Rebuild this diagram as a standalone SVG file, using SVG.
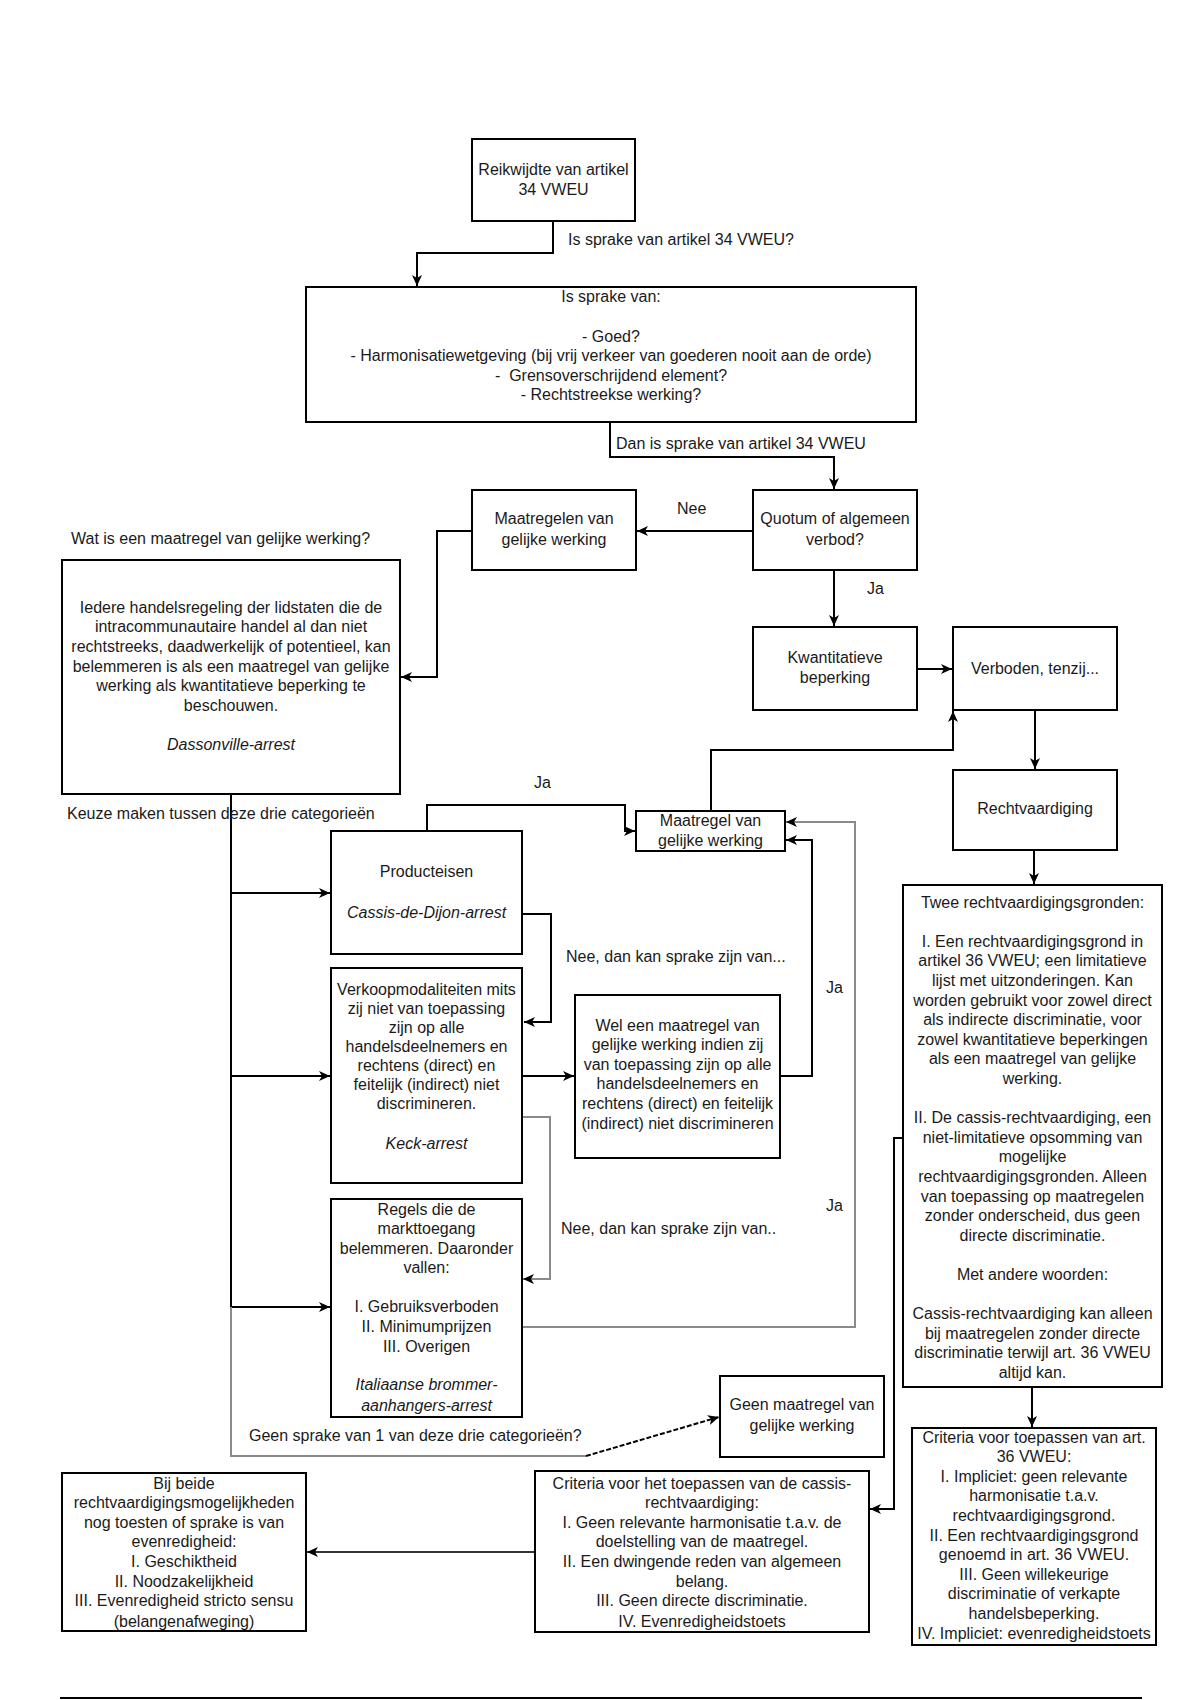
<svg xmlns="http://www.w3.org/2000/svg" width="1200" height="1700" viewBox="0 0 1200 1700">
<style>
.box{fill:#fff;stroke:#000;stroke-width:2}
.t{font-family:"Liberation Sans",Arial,Helvetica,sans-serif;font-size:16px;fill:#1a1a1a;text-anchor:middle}
.l{font-family:"Liberation Sans",Arial,Helvetica,sans-serif;font-size:16px;fill:#1a1a1a;text-anchor:start}
.i{font-style:italic}
.e{fill:none;stroke:#000;stroke-width:2}
.g{fill:none;stroke:#8a8a8a;stroke-width:2}
.d{stroke-dasharray:5 2}
</style>
<defs>
<marker id="arr" markerUnits="userSpaceOnUse" markerWidth="12" markerHeight="10" refX="11" refY="5" orient="auto">
<path d="M0,0 L11,5 L0,10 L3,5 Z" fill="#000"/>
</marker>
</defs>
<rect width="1200" height="1700" fill="#fff"/>

<g id="connectors">
<path class="e" d="M553,221 V253 H417 V286" marker-end="url(#arr)"/>
<path class="e" d="M610,422 V457 H834 V489" marker-end="url(#arr)"/>
<path class="e" d="M752,531 H637" marker-end="url(#arr)"/>
<path class="e" d="M834,569 V626" marker-end="url(#arr)"/>
<path class="e" d="M918,669 H952" marker-end="url(#arr)"/>
<path class="e" d="M1035,710 V769" marker-end="url(#arr)"/>
<path class="e" d="M472,531 H437 V677 H401" marker-end="url(#arr)"/>
<path class="e" d="M1034,850 V884" marker-end="url(#arr)"/>
<path class="e" d="M231,794 V1307"/>
<path class="e" d="M231,893 H330" marker-end="url(#arr)"/>
<path class="e" d="M231,1076 H330" marker-end="url(#arr)"/>
<path class="e" d="M231,1307 H330" marker-end="url(#arr)"/>
<path class="g" d="M231,1307 V1456 H586"/>
<path class="e d" d="M586,1456 L719,1417" marker-end="url(#arr)"/>
<path class="e" d="M427,831 V805 H625 V831 H635" marker-end="url(#arr)"/>
<path class="e" d="M711,811 V750 H953 V711" marker-end="url(#arr)"/>
<path class="e" d="M523,914 H551 V1022 H524" marker-end="url(#arr)"/>
<path class="e" d="M523,1076 H574" marker-end="url(#arr)"/>
<path class="e" d="M780,1076 H812 V840 H786" marker-end="url(#arr)"/>
<path class="g" d="M522,1327 H855 V822 H786" marker-end="url(#arr)"/>
<path class="g" d="M522,1117 H550 V1279 H523" marker-end="url(#arr)"/>
<path class="e" d="M903,1138 H894 V1509 H870" marker-end="url(#arr)"/>
<path class="e" d="M1032,1387 V1427" marker-end="url(#arr)"/>
<path fill="none" stroke="#333" stroke-width="2" d="M535,1552 H307" marker-end="url(#arr)"/>
<path class="e" d="M60,1698 H1142"/>
</g>

<g id="labels">
<text class="l" x="568" y="244.5">Is sprake van artikel 34 VWEU?</text>
<text class="l" x="616" y="448.5">Dan is sprake van artikel 34 VWEU</text>
<text class="l" x="677" y="513.5">Nee</text>
<text class="l" x="867" y="593.5">Ja</text>
<text class="l" x="71" y="543.5">Wat is een maatregel van gelijke werking?</text>
<text class="l" x="67" y="818.5">Keuze maken tussen deze drie categorieën</text>
<text class="l" x="534" y="787.5">Ja</text>
<text class="l" x="566" y="961.5">Nee, dan kan sprake zijn van...</text>
<text class="l" x="826" y="992.5">Ja</text>
<text class="l" x="561" y="1233.5">Nee, dan kan sprake zijn van..</text>
<text class="l" x="826" y="1210.5">Ja</text>
<text class="l" x="249" y="1440.5">Geen sprake van 1 van deze drie categorieën?</text>
</g>

<g id="n-reikwijdte">
<rect class="box" x="472" y="139" width="163" height="82"/>
<text class="t"><tspan x="553.5" y="174.5">Reikwijdte van artikel</tspan><tspan x="553.5" y="194.5">34 VWEU</tspan></text>
</g>

<g id="n-issprake">
<rect class="box" x="306" y="287" width="610" height="135"/>
<text class="t" xml:space="preserve"><tspan x="611" y="301.5">Is sprake van:</tspan><tspan x="611" y="341.5">- Goed?</tspan><tspan x="611" y="361">- Harmonisatiewetgeving (bij vrij verkeer van goederen nooit aan de orde)</tspan><tspan x="611" y="380.5">-  Grensoverschrijdend element?</tspan><tspan x="611" y="400">- Rechtstreekse werking?</tspan></text>
</g>

<g id="n-quotum">
<rect class="box" x="753" y="490" width="164" height="80"/>
<text class="t"><tspan x="835" y="523.5">Quotum of algemeen</tspan><tspan x="835" y="545">verbod?</tspan></text>
</g>

<g id="n-maatregelen">
<rect class="box" x="472" y="490" width="164" height="80"/>
<text class="t"><tspan x="554" y="523.5">Maatregelen van</tspan><tspan x="554" y="545">gelijke werking</tspan></text>
</g>

<g id="n-kwantitatieve">
<rect class="box" x="753" y="627" width="164" height="83"/>
<text class="t"><tspan x="835" y="662.5">Kwantitatieve</tspan><tspan x="835" y="682.5">beperking</tspan></text>
</g>

<g id="n-verboden">
<rect class="box" x="953" y="627" width="164" height="83"/>
<text class="t" x="1035" y="673.5">Verboden, tenzij...</text>
</g>

<g id="n-rechtvaardiging">
<rect class="box" x="953" y="770" width="164" height="80"/>
<text class="t" x="1035" y="813.5">Rechtvaardiging</text>
</g>

<g id="n-iedere">
<rect class="box" x="62" y="560" width="338" height="234"/>
<text class="t"><tspan x="231" y="612.5">Iedere handelsregeling der lidstaten die de</tspan><tspan x="231" y="632.2">intracommunautaire handel al dan niet</tspan><tspan x="231" y="651.9">rechtstreeks, daadwerkelijk of potentieel, kan</tspan><tspan x="231" y="671.6">belemmeren is als een maatregel van gelijke</tspan><tspan x="231" y="691.3">werking als kwantitatieve beperking te</tspan><tspan x="231" y="711">beschouwen.</tspan><tspan x="231" y="750" class="i">Dassonville-arrest</tspan></text>
</g>

<g id="n-maatregel">
<rect class="box" x="636" y="811" width="149" height="40"/>
<text class="t"><tspan x="710.5" y="825.5">Maatregel van</tspan><tspan x="710.5" y="845.5">gelijke werking</tspan></text>
</g>

<g id="n-producteisen">
<rect class="box" x="331" y="831" width="191" height="123"/>
<text class="t"><tspan x="426.5" y="876.5">Producteisen</tspan><tspan x="426.5" y="917.5" class="i">Cassis-de-Dijon-arrest</tspan></text>
</g>

<g id="n-verkoop">
<rect class="box" x="331" y="968" width="191" height="215"/>
<text class="t"><tspan x="426.5" y="994.5">Verkoopmodaliteiten mits</tspan><tspan x="426.5" y="1013.5">zij niet van toepassing</tspan><tspan x="426.5" y="1032.5">zijn op alle</tspan><tspan x="426.5" y="1052">handelsdeelnemers en</tspan><tspan x="426.5" y="1071">rechtens (direct) en</tspan><tspan x="426.5" y="1090">feitelijk (indirect) niet</tspan><tspan x="426.5" y="1109">discrimineren.</tspan><tspan x="426.5" y="1148.5" class="i">Keck-arrest</tspan></text>
</g>

<g id="n-wel">
<rect class="box" x="575" y="995" width="205" height="163"/>
<text class="t"><tspan x="677.5" y="1030.5">Wel een maatregel van</tspan><tspan x="677.5" y="1050.1">gelijke werking indien zij</tspan><tspan x="677.5" y="1069.7">van toepassing zijn op alle</tspan><tspan x="677.5" y="1089.3">handelsdeelnemers en</tspan><tspan x="677.5" y="1108.9">rechtens (direct) en feitelijk</tspan><tspan x="677.5" y="1128.5">(indirect) niet discrimineren</tspan></text>
</g>

<g id="n-regels">
<rect class="box" x="331" y="1199" width="191" height="218"/>
<text class="t"><tspan x="426.5" y="1214.5">Regels die de</tspan><tspan x="426.5" y="1234">markttoegang</tspan><tspan x="426.5" y="1253.5">belemmeren. Daaronder</tspan><tspan x="426.5" y="1273">vallen:</tspan><tspan x="426.5" y="1311.5">I. Gebruiksverboden</tspan><tspan x="426.5" y="1331.5">II. Minimumprijzen</tspan><tspan x="426.5" y="1351.5">III. Overigen</tspan><tspan x="426.5" y="1390" class="i">Italiaanse brommer-</tspan><tspan x="426.5" y="1410.5" class="i">aanhangers-arrest</tspan></text>
</g>

<g id="n-geen">
<rect class="box" x="720" y="1376" width="164" height="81"/>
<text class="t"><tspan x="802" y="1409.5">Geen maatregel van</tspan><tspan x="802" y="1430.5">gelijke werking</tspan></text>
</g>

<g id="n-twee">
<rect class="box" x="903" y="885" width="259" height="502"/>
<text class="t"><tspan x="1032.5" y="907.5">Twee rechtvaardigingsgronden:</tspan><tspan x="1032.5" dy="39.2">I. Een rechtvaardigingsgrond in</tspan><tspan x="1032.5" dy="19.6">artikel 36 VWEU; een limitatieve</tspan><tspan x="1032.5" dy="19.6">lijst met uitzonderingen. Kan</tspan><tspan x="1032.5" dy="19.6">worden gebruikt voor zowel direct</tspan><tspan x="1032.5" dy="19.6">als indirecte discriminatie, voor</tspan><tspan x="1032.5" dy="19.6">zowel kwantitatieve beperkingen</tspan><tspan x="1032.5" dy="19.6">als een maatregel van gelijke</tspan><tspan x="1032.5" dy="19.6">werking.</tspan><tspan x="1032.5" dy="39.2">II. De cassis-rechtvaardiging, een</tspan><tspan x="1032.5" dy="19.6">niet-limitatieve opsomming van</tspan><tspan x="1032.5" dy="19.6">mogelijke</tspan><tspan x="1032.5" dy="19.6">rechtvaardigingsgronden. Alleen</tspan><tspan x="1032.5" dy="19.6">van toepassing op maatregelen</tspan><tspan x="1032.5" dy="19.6">zonder onderscheid, dus geen</tspan><tspan x="1032.5" dy="19.6">directe discriminatie.</tspan><tspan x="1032.5" dy="39.2">Met andere woorden:</tspan><tspan x="1032.5" dy="39.2">Cassis-rechtvaardiging kan alleen</tspan><tspan x="1032.5" dy="19.6">bij maatregelen zonder directe</tspan><tspan x="1032.5" dy="19.6">discriminatie terwijl art. 36 VWEU</tspan><tspan x="1032.5" dy="19.6">altijd kan.</tspan></text>
</g>

<g id="n-criteria36">
<rect class="box" x="912" y="1428" width="244" height="217"/>
<text class="t"><tspan x="1034" y="1442.5">Criteria voor toepassen van art.</tspan><tspan x="1034" dy="19.6">36 VWEU:</tspan><tspan x="1034" dy="19.6">I. Impliciet: geen relevante</tspan><tspan x="1034" dy="19.6">harmonisatie t.a.v.</tspan><tspan x="1034" dy="19.6">rechtvaardigingsgrond.</tspan><tspan x="1034" dy="19.6">II. Een rechtvaardigingsgrond</tspan><tspan x="1034" dy="19.6">genoemd in art. 36 VWEU.</tspan><tspan x="1034" dy="19.6">III. Geen willekeurige</tspan><tspan x="1034" dy="19.6">discriminatie of verkapte</tspan><tspan x="1034" dy="19.6">handelsbeperking.</tspan><tspan x="1034" dy="19.6">IV. Impliciet: evenredigheidstoets</tspan></text>
</g>

<g id="n-criteriacassis">
<rect class="box" x="535" y="1471" width="334" height="161"/>
<text class="t"><tspan x="702" y="1488.5">Criteria voor het toepassen van de cassis-</tspan><tspan x="702" dy="19.6">rechtvaardiging:</tspan><tspan x="702" dy="19.6">I. Geen relevante harmonisatie t.a.v. de</tspan><tspan x="702" dy="19.6">doelstelling van de maatregel.</tspan><tspan x="702" dy="19.6">II. Een dwingende reden van algemeen</tspan><tspan x="702" dy="19.6">belang.</tspan><tspan x="702" dy="19.6">III. Geen directe discriminatie.</tspan><tspan x="702" dy="20.5">IV. Evenredigheidstoets</tspan></text>
</g>

<g id="n-bijbeide">
<rect class="box" x="62" y="1473" width="244" height="158"/>
<text class="t"><tspan x="184" y="1488.5">Bij beide</tspan><tspan x="184" dy="19.6">rechtvaardigingsmogelijkheden</tspan><tspan x="184" dy="19.6">nog toesten of sprake is van</tspan><tspan x="184" dy="19.6">evenredigheid:</tspan><tspan x="184" dy="19.6">I. Geschiktheid</tspan><tspan x="184" dy="19.6">II. Noodzakelijkheid</tspan><tspan x="184" dy="19.6">III. Evenredigheid stricto sensu</tspan><tspan x="184" dy="21">(belangenafweging)</tspan></text>
</g>
</svg>
